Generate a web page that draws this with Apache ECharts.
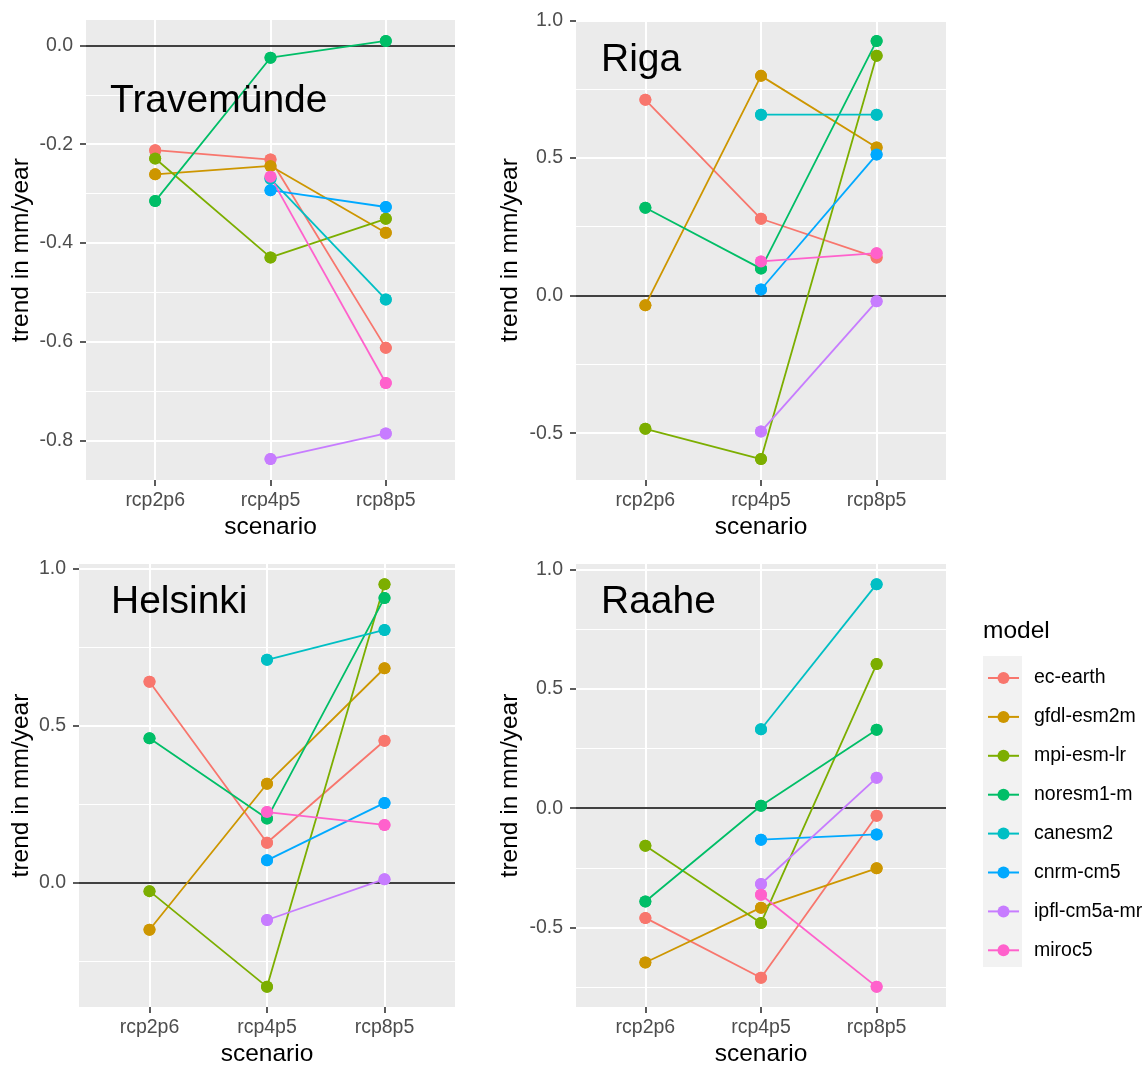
<!DOCTYPE html>
<html>
<head>
<meta charset="utf-8">
<script src="https://cdn.jsdelivr.net/npm/echarts@6/dist/echarts.min.js"></script>
<style>
    html, body { margin: 0; padding: 0; background: #fff; }
    #container { width: 1148px; height: 1082px; }
</style>
</head>
<body>
<div id="container"></div>
<script>
const scenarios = ['rcp2p6', 'rcp4p5', 'rcp8p5'];
const models = ['ec-earth', 'gfdl-esm2m', 'mpi-esm-lr', 'noresm1-m', 'canesm2', 'cnrm-cm5', 'ipfl-cm5a-mr', 'miroc5'];
const modelColors = ['#F8766D', '#CD9600', '#7CAE00', '#00BE67', '#00BFC4', '#00A9FF', '#C77CFF', '#FF61CC'];

// trend (mm/year) per model, one value per scenario, null = no run
const travemunde = [
    [-0.212, -0.231, -0.612],
    [-0.261, -0.244, -0.379],
    [-0.229, -0.429, -0.351],
    [-0.315, -0.025, 0.009],
    [null, -0.270, -0.514],
    [null, -0.293, -0.327],
    [null, -0.837, -0.785],
    [null, -0.266, -0.683]
];
const riga = [
    [0.711, 0.279, 0.138],
    [-0.035, 0.798, 0.538],
    [-0.484, -0.594, 0.871],
    [0.319, 0.098, 0.925],
    [null, 0.657, 0.657],
    [null, 0.022, 0.512],
    [null, -0.494, -0.021],
    [null, 0.124, 0.154]
];
const helsinki = [
    [0.639, 0.126, 0.451],
    [-0.151, 0.314, 0.682],
    [-0.028, -0.333, 0.950],
    [0.459, 0.203, 0.906],
    [null, 0.709, 0.804],
    [null, 0.070, 0.253],
    [null, -0.120, 0.010],
    [null, 0.224, 0.183]
];
const raahe = [
    [-0.460, -0.711, -0.032],
    [-0.647, -0.417, -0.252],
    [-0.158, -0.481, 0.604],
    [-0.391, 0.010, 0.329],
    [null, 0.331, 0.939],
    [null, -0.132, -0.110],
    [null, -0.318, 0.127],
    [null, -0.363, -0.749]
];

// y tick labels and minor grid lines per station
const travemundeTicks = [-0.8, -0.6, -0.4, -0.2, 0.0];
const travemundeMinor = [-0.7, -0.5, -0.3, -0.1];
const rigaTicks = [-0.5, 0.0, 0.5, 1.0];
const rigaMinor = [-0.25, 0.25, 0.75];
const helsinkiTicks = [0.0, 0.5, 1.0];
const helsinkiMinor = [-0.25, 0.25, 0.75];
const raaheTicks = [-0.5, 0.0, 0.5, 1.0];
const raaheMinor = [-0.75, -0.25, 0.25, 0.75];

const font = 'Liberation Sans, Arial, sans-serif';

const panels = [
    { label: 'Travemünde', values: travemunde, ticks: travemundeTicks, minor: travemundeMinor,
      rect: { left: 86, top: 20, width: 369, height: 460 }, nameGap: 52, labelAt: [110, 101] },
    { label: 'Riga', values: riga, ticks: rigaTicks, minor: rigaMinor,
      rect: { left: 576, top: 20, width: 370, height: 460 }, nameGap: 53, labelAt: [601, 60] },
    { label: 'Helsinki', values: helsinki, ticks: helsinkiTicks, minor: helsinkiMinor,
      rect: { left: 79, top: 564, width: 376, height: 443 }, nameGap: 45, labelAt: [111, 602] },
    { label: 'Raahe', values: raahe, ticks: raaheTicks, minor: raaheMinor,
      rect: { left: 576, top: 564, width: 370, height: 443 }, nameGap: 53, labelAt: [601, 602] }
];

let grid = [], xAxis = [], yAxis = [], series = [], graphic = [];

panels.forEach(function (p, i) {
    grid.push(Object.assign({ show: true, backgroundColor: '#EBEBEB', borderWidth: 0 }, p.rect));

    // ggplot-style 5% expansion of the data range
    let all = p.values.flat().filter(v => v != null);
    let lo = Math.min.apply(null, all), hi = Math.max.apply(null, all);
    let pad = (hi - lo) * 0.05;

    xAxis.push({
        type: 'value', gridIndex: i, min: -0.6, max: 2.6, position: 'bottom',
        name: 'scenario', nameLocation: 'middle', nameGap: 35,
        nameTextStyle: { color: '#000', fontSize: 24.5, fontFamily: font },
        axisLine: { show: false, onZero: false },
        axisTick: { show: true, length: 6, customValues: [0, 1, 2], lineStyle: { color: '#333', width: 1.6 } },
        axisLabel: { customValues: [0, 1, 2], formatter: v => scenarios[Math.round(v)],
                     color: '#4D4D4D', fontSize: 19.5, fontFamily: font, margin: 11 },
        splitLine: { show: true, lineStyle: { color: '#fff', width: 2 } }
    });
    yAxis.push({
        type: 'value', gridIndex: i, min: lo - pad, max: hi + pad, position: 'left',
        name: 'trend in mm/year', nameLocation: 'middle', nameGap: p.nameGap,
        nameTextStyle: { color: '#000', fontSize: 24.5, fontFamily: font },
        axisLine: { show: false, onZero: false },
        axisTick: { show: true, length: 6, customValues: p.ticks, lineStyle: { color: '#333', width: 1.6 } },
        axisLabel: { customValues: p.ticks, formatter: v => v.toFixed(1),
                     color: '#4D4D4D', fontSize: 19.5, fontFamily: font, margin: 13 },
        splitLine: { show: true, lineStyle: { color: '#fff', width: 2 } }
    });

    // minor grid + zero line
    series.push({
        type: 'line', xAxisIndex: i, yAxisIndex: i, data: [], z: 1, silent: true,
        markLine: {
            silent: true, z: 1, symbol: ['none', 'none'], label: { show: false }, animation: false,
            data: p.minor.map(v => ({ yAxis: v, lineStyle: { color: '#fff', width: 1, type: 'solid' } }))
                .concat([{ yAxis: 0, lineStyle: { color: '#000', width: 1.6, type: 'solid' } }])
        }
    });

    models.forEach(function (m, k) {
        let pts = p.values[k].map((v, j) => v == null ? null : [j, v]).filter(d => d);
        series.push({
            name: m, type: 'line', xAxisIndex: i, yAxisIndex: i, z: 2,
            data: pts, symbol: 'circle', symbolSize: 12, showSymbol: true,
            lineStyle: { width: 1.8, color: modelColors[k] },
            itemStyle: { color: modelColors[k] }
        });
    });
    // points above all lines, as geom_point after geom_line
    models.forEach(function (m, k) {
        let pts = p.values[k].map((v, j) => v == null ? null : [j, v]).filter(d => d);
        series.push({
            name: m, type: 'scatter', xAxisIndex: i, yAxisIndex: i, z: 3,
            data: pts, symbol: 'circle', symbolSize: 12,
            itemStyle: { color: modelColors[k], opacity: 1 }
        });
    });

    graphic.push({
        type: 'text', x: p.labelAt[0], y: p.labelAt[1], z: 10,
        style: { text: p.label, fill: '#000', fontSize: 39, fontFamily: font, align: 'left', verticalAlign: 'middle' }
    });
});

// legend title and key background
graphic.push({
    type: 'text', x: 983, y: 631, z: 10,
    style: { text: 'model', fill: '#000', fontSize: 24.5, fontFamily: font, align: 'left', verticalAlign: 'middle' }
});
graphic.push({
    type: 'rect', shape: { x: 983, y: 656, width: 39, height: 311 }, z: 0,
    style: { fill: '#F2F2F2' }
});

let myChart = echarts.init(document.getElementById('container'));
myChart.setOption({
    animation: false,
    backgroundColor: '#fff',
    grid: grid,
    xAxis: xAxis,
    yAxis: yAxis,
    legend: {
        orient: 'vertical', left: 987, top: 668, padding: 0,
        data: models, itemWidth: 31, itemHeight: 15, itemGap: 18.9,
        textStyle: { fontSize: 19.5, color: '#000', fontFamily: font, padding: [0, 0, 0, 10] }
    },
    graphic: graphic,
    series: series
});
</script>
</body>
</html>
